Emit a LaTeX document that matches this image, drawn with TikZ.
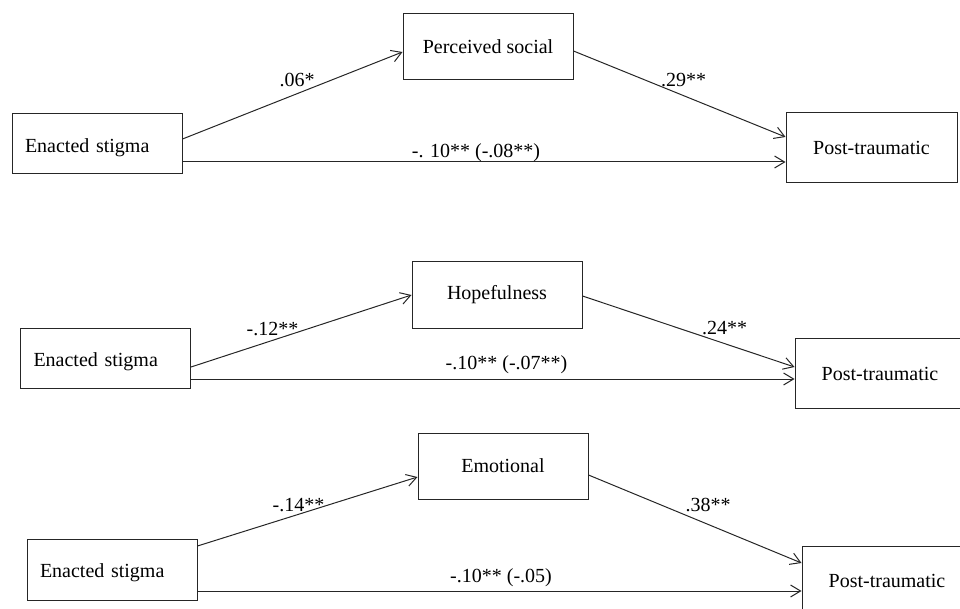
\documentclass[tikz,border=0pt]{standalone}
\usepackage{fontspec}
\setmainfont{Liberation Serif}
\usetikzlibrary{arrows.meta}
\tikzset{
  every node/.style={
    font=\fontsize{20}{24}\selectfont
  },
  predictor/.style={
    shape=rectangle,
    draw=black!85,
    line width=1pt,
    minimum height=60pt,
    text width=144pt,
    align=left,
    inner xsep=13pt,
    text height=16.5pt,
    text depth=0pt
  },
  mediator/.style={
    shape=rectangle,
    draw=black!85,
    line width=1pt,
    minimum width=170pt,
    minimum height=66pt,
    inner sep=0pt
  },
  outcome/.style={
    shape=rectangle,
    draw=black!85,
    line width=1pt,
    minimum width=171pt,
    minimum height=70pt,
    inner sep=0pt
  },
  link/.style={
    draw=black!85,
    line width=1pt,
    -{Straight Barb[length=10pt,width=12pt]}
  },
  coefficient/.style={
    inner sep=0pt
  }
}
\begin{document}
\begin{tikzpicture}[x=1pt,y=-1pt]

\clip (0,0) rectangle (960,609);

\node [predictor] (stigmaA) at (97,144) {Enacted stigma};
\node [mediator] (social) at (488,47) {Perceived social};
\node [outcome] (ptgA) at (871.5,148) {Post-traumatic};

\draw [link] ([yshift=5pt]stigmaA.east) -- ([yshift=-5pt]social.west);
\draw [link] ([yshift=-4pt]social.east) -- ([yshift=11pt]ptgA.west);
\draw [link] ([yshift=-18pt]stigmaA.east) -- ([yshift=-18pt]stigmaA.east -| ptgA.west);

\node [coefficient] (aA) at (297,80) {.06*};
\node [coefficient] (bA) at (683.5,80) {.29**};
\node [coefficient] (cA) at (476,153) {-. 10** (-.08**)};

\node [predictor] (stigmaB) at (105.5,358) {Enacted stigma};
\node [mediator] (hope) at (497,295) {Hopefulness};
\node [outcome, minimum width=170pt] (ptgB) at (880,373.5) {Post-traumatic};

\draw [link] ([yshift=-9pt]stigmaB.east) -- (hope.west);
\draw [link] ([yshift=-1pt]hope.east) -- ([yshift=6.5pt]ptgB.west);
\draw [link] ([yshift=-21pt]stigmaB.east) -- ([yshift=-21pt]stigmaB.east -| ptgB.west);

\node [coefficient] (aB) at (272.5,329) {-.12**};
\node [coefficient] (bB) at (724.5,328.5) {.24**};
\node [coefficient] (cB) at (506.5,365) {-.10** (-.07**)};

\node [predictor, minimum height=61pt] (stigmaC) at (112,569.5) {Enacted stigma};
\node [mediator] (emotion) at (503,466) {Emotional};
\node [outcome, minimum width=170pt] (ptgC) at (887,581) {Post-traumatic};

\draw [link] ([yshift=23.5pt]stigmaC.east) -- ([yshift=-11pt]emotion.west);
\draw [link] ([yshift=-9pt]emotion.east) -- ([yshift=18pt]ptgC.west);
\draw [link] ([yshift=-21.5pt]stigmaC.east) -- ([yshift=-21.5pt]stigmaC.east -| ptgC.west);

\node [coefficient] (aC) at (298.5,505) {-.14**};
\node [coefficient] (bC) at (708,505) {.38**};
\node [coefficient] (cC) at (501,578) {-.10** (-.05)};

\end{tikzpicture}
\end{document}
